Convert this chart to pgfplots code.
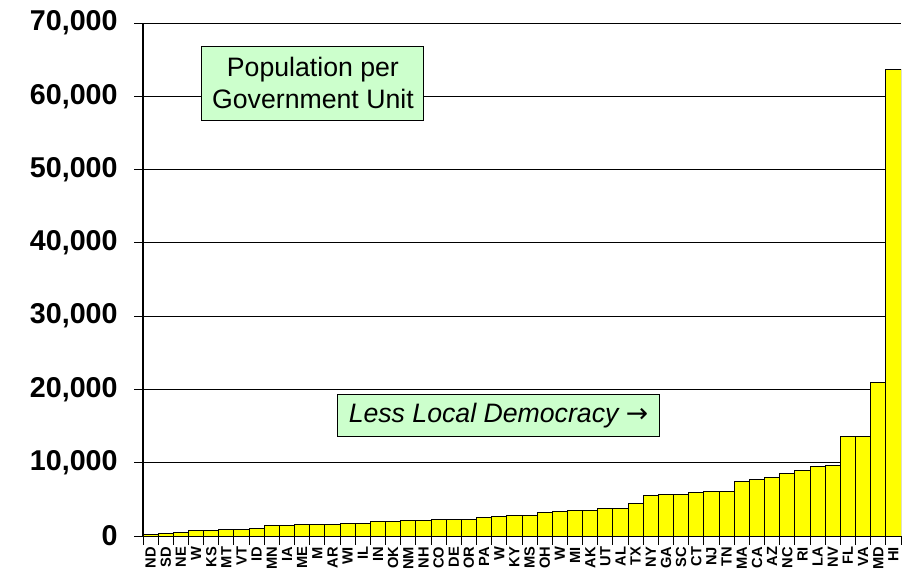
\documentclass[border=0pt]{standalone}
\usepackage{fontspec}
\setmainfont{Liberation Sans}
\newfontfamily\arrowfont{DejaVu Sans}
\usepackage{pgfplots}
\usepackage{pgfplotstable}
\pgfplotsset{compat=1.18}
\definecolor{baryellow}{RGB}{255,255,0}
\definecolor{boxgreen}{RGB}{204,255,204}

% population per government unit, states sorted ascending
\pgfplotstableread{
state value
ND 150
SD 280
NE 510
W 690
KS 690
MT 830
VT 830
ID 1060
MN 1380
IA 1380
ME 1520
M 1520
AR 1520
WI 1700
IL 1700
IN 1930
OK 1930
NM 2120
NH 2120
CO 2260
DE 2260
OR 2260
PA 2490
W 2670
KY 2810
MS 2810
OH 3170
W 3350
MI 3530
AK 3530
UT 3720
AL 3720
TX 4400
NY 5510
GA 5650
SC 5650
CT 5880
NJ 6060
TN 6060
MA 7440
CA 7670
AZ 8030
NC 8540
RI 8900
LA 9460
NV 9640
FL 13540
VA 13540
MD 20880
HI 63700
}\govdata

\begin{document}
\begin{tikzpicture}
\useasboundingbox (0,0) rectangle (679.5pt,432pt);
\begin{axis}[
  anchor=south west, at={(107.25pt,30pt)},
  scale only axis, width=568.5pt, height=384.75pt,
  xmin=0.5, xmax=50.5, ymin=0, ymax=70000,
  axis x line*=bottom, axis y line*=left,
  axis line style={-, line width=0.9pt},
  ytick={0,10000,...,70000},
  ymajorgrids, major grid style={black, line width=0.6pt},
  tick align=outside,
  every tick/.style={black, line width=0.75pt},
  major tick length=6.5pt,
  xtick={0.5,1.5,...,50.5}, xticklabels={},
  extra x ticks={1,2,...,50},
  extra x tick labels={ND,SD,NE,W,KS,MT,VT,ID,MN,IA,ME,M,AR,WI,IL,IN,OK,NM,NH,CO,DE,OR,PA,W,KY,MS,OH,W,MI,AK,UT,AL,TX,NY,GA,SC,CT,NJ,TN,MA,CA,AZ,NC,RI,LA,NV,FL,VA,MD,HI},
  extra x tick style={major tick length=0pt,
    xticklabel style={rotate=90, anchor=east, font=\bfseries\fontsize{11}{11}\selectfont, inner sep=1pt, xshift=-7pt}},
  yticklabel style={font=\bfseries\fontsize{21.5}{21.5}\selectfont, xshift=-9pt},
  /pgf/number format/assume math mode=true,
  /pgf/number format/1000 sep={,},
  scaled y ticks=false,
]
\addplot[ybar, bar width=1, fill=baryellow, draw=black, line width=0.75pt]
  table[x expr=\coordindex+1, y=value]{\govdata};
\node[draw=black, fill=boxgreen, align=center, minimum width=166.5pt, minimum height=55.5pt,
  font=\fontsize{20}{24}\selectfont, line width=0.75pt]
  at (axis cs:11.71,61800) {Population per\\Government Unit};
\node[draw=black, fill=boxgreen, minimum width=242pt, minimum height=32pt,
  font=\itshape\fontsize{20}{24}\selectfont, line width=0.75pt]
  at (axis cs:23.95,16430) {Less Local Democracy {\arrowfont\upshape →}};
\end{axis}
\end{tikzpicture}
\end{document}
